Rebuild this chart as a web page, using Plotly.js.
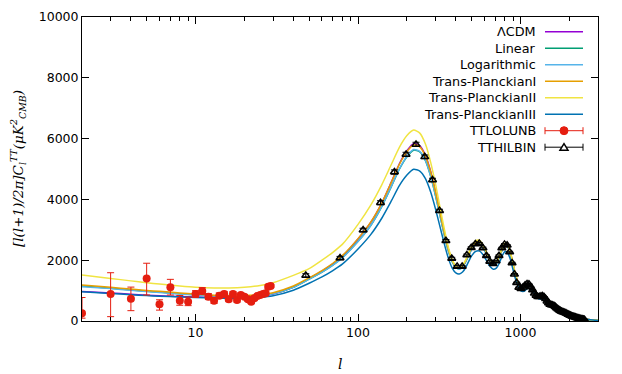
<!DOCTYPE html>
<html>
<head>
<meta charset="utf-8">
<script src="https://cdn.plot.ly/plotly-3.0.1.min.js"></script>
<style>
  html, body { margin: 0; padding: 0; background: #fff; }
  #plot { width: 622px; height: 374px; }
</style>
</head>
<body>
<div id="plot"></div>
<script>
// multipole grid for the model curves
const ell = [2, 3, 4, 5, 6, 8, 10, 13, 16, 20,
  25, 30, 40, 50, 60, 70, 80, 100, 120, 140,
  160, 180, 200, 220, 240, 260, 280, 300, 320, 340,
  360, 380, 400, 420, 440, 460, 480, 500, 530, 560,
  590, 620, 650, 680, 710, 740, 770, 800, 830, 860,
  890, 920, 960, 1000, 1050, 1100, 1150, 1200, 1250, 1300,
  1350, 1400, 1450, 1500, 1600, 1700, 1800, 1900, 2000, 2200,
  2400, 2600, 2800, 3000];

const lcdm = [970, 920, 880, 850, 830, 805, 790, 780, 780, 795,
  830, 890, 1120, 1400, 1640, 1880, 2130, 2700, 3250, 3880,
  4560, 5180, 5600, 5840, 5760, 5450, 4920, 4250, 3550, 2900,
  2350, 1980, 1780, 1720, 1790, 1960, 2180, 2380, 2560, 2580,
  2430, 2200, 1990, 1880, 1920, 2100, 2350, 2520, 2500, 2300,
  1980, 1640, 1300, 1110, 1080, 1190, 1180, 1060, 900, 800,
  800, 800, 720, 610, 520, 410, 320, 270, 215, 140,
  85, 52, 32, 20];

const linear = [1150, 1080, 1020, 980, 950, 900, 860, 830, 815, 815,
  840, 900, 1110, 1380, 1610, 1840, 2080, 2620, 3150, 3760,
  4410, 5000, 5400, 5620, 5560, 5270, 4760, 4120, 3450, 2820,
  2300, 1950, 1760, 1710, 1780, 1950, 2160, 2350, 2530, 2550,
  2400, 2180, 1970, 1870, 1910, 2080, 2330, 2490, 2470, 2270,
  1960, 1620, 1290, 1100, 1070, 1180, 1170, 1050, 890, 790,
  790, 790, 710, 600, 510, 405, 315, 265, 210, 138,
  84, 51, 31, 19];

const logarithmic = [1130, 1065, 1010, 970, 940, 892, 855, 825, 812, 812,
  835, 895, 1105, 1375, 1605, 1835, 2075, 2615, 3150, 3770,
  4420, 5010, 5420, 5640, 5580, 5280, 4770, 4130, 3460, 2830,
  2300, 1950, 1760, 1710, 1780, 1950, 2160, 2350, 2530, 2550,
  2400, 2180, 1970, 1870, 1910, 2080, 2330, 2490, 2470, 2270,
  1960, 1620, 1290, 1100, 1070, 1180, 1170, 1050, 890, 790,
  790, 790, 710, 600, 510, 405, 315, 265, 210, 138,
  84, 51, 31, 19];

const transPlanckI = [1185, 1110, 1050, 1005, 975, 925, 885, 850, 835, 835,
  865, 930, 1150, 1420, 1660, 1900, 2150, 2710, 3260, 3880,
  4550, 5160, 5570, 5800, 5730, 5420, 4900, 4240, 3550, 2900,
  2360, 1990, 1800, 1750, 1820, 1990, 2210, 2410, 2590, 2610,
  2460, 2230, 2010, 1900, 1940, 2120, 2370, 2540, 2520, 2320,
  2000, 1650, 1310, 1120, 1090, 1200, 1190, 1070, 910, 810,
  810, 810, 730, 615, 525, 415, 325, 272, 218, 142,
  86, 53, 33, 20];

const transPlanckII = [1510, 1400, 1320, 1260, 1215, 1150, 1110, 1085, 1085, 1110,
  1170, 1260, 1500, 1720, 2000, 2260, 2520, 3180, 3820, 4480,
  5140, 5720, 6100, 6280, 6180, 5820, 5220, 4500, 3730, 3020,
  2420, 2020, 1810, 1750, 1830, 2010, 2240, 2450, 2640, 2650,
  2490, 2250, 2030, 1920, 1960, 2140, 2390, 2560, 2540, 2330,
  2010, 1660, 1320, 1125, 1095, 1205, 1195, 1075, 915, 812,
  812, 812, 732, 618, 527, 416, 326, 274, 219, 143,
  87, 53, 33, 21];

const transPlanckIII = [960, 905, 865, 835, 815, 790, 770, 755, 750, 755,
  780, 830, 1010, 1240, 1450, 1660, 1870, 2370, 2850, 3380,
  3940, 4460, 4800, 4990, 4930, 4680, 4240, 3680, 3090, 2530,
  2060, 1740, 1580, 1545, 1610, 1760, 1960, 2140, 2290, 2300,
  2170, 1970, 1790, 1700, 1740, 1900, 2130, 2280, 2260, 2080,
  1790, 1480, 1180, 1000, 975, 1070, 1065, 955, 815, 725,
  725, 725, 650, 550, 470, 370, 290, 245, 195, 127,
  77, 47, 29, 18];

// low-l unbinned data
const loEll = [2, 3, 4, 5, 6, 7, 8, 9, 10, 11, 12, 13, 14, 15,
  16, 17, 18, 19, 20, 21, 22, 23, 24, 25, 26, 27, 28, 29];
const loDl = [253, 888, 735, 1400, 548, 1110, 668, 635, 888, 987, 800, 668, 833, 888,
  713, 888, 690, 855, 800, 713, 635, 746, 822, 855, 888, 910, 1130, 1150];
const loErrPlus = [520, 700, 380, 500, 150, 260, 170, 150, 110, 110, 100, 95, 90, 85,
  80, 78, 75, 72, 70, 68, 66, 64, 62, 60, 58, 56, 55, 54];
const loErrMinus = [160, 745, 395, 545, 190, 255, 150, 130, 110, 105, 95, 90, 85, 80,
  75, 72, 70, 68, 66, 64, 62, 60, 58, 56, 55, 53, 52, 50];

// high-l binned data
const hiEll = [47.7, 77.5, 107.5, 137.5, 167.5, 197.5, 227.5, 257.5, 287.5, 317.5,
  347.5, 377.5, 407.5, 437.5, 467.5, 497.5, 527.5, 557.5, 587.5, 617.5,
  647.5, 677.5, 707.5, 737.5, 767.5, 797.5, 827.5, 857.5, 887.5, 917.5,
  947.5, 977.5, 1007.5, 1037.5, 1067.5, 1097.5, 1127.5, 1157.5, 1187.5, 1217.5,
  1247.5, 1277.5, 1307.5, 1337.5, 1367.5, 1397.5, 1427.5, 1457.5, 1487.5, 1517.5,
  1547.5, 1577.5, 1607.5, 1637.5, 1667.5, 1697.5, 1727.5, 1757.5, 1787.5, 1817.5,
  1847.5, 1877.5, 1907.5, 1937.5, 1967.5, 1997.5, 2027.5, 2057.5, 2087.5, 2117.5,
  2147.5, 2177.5, 2207.5, 2237.5, 2267.5, 2297.5, 2327.5, 2357.5, 2387.5, 2417.5,
  2447.5, 2477.5];
const hiDl = [1500, 2070, 2990, 3890, 4900, 5480, 5810, 5400, 4640, 3630,
  2640, 2060, 1790, 1790, 2170, 2410, 2530, 2550, 2400, 2150,
  1960, 1880, 1970, 2150, 2400, 2520, 2490, 2270, 1910, 1540,
  1260, 1100, 1060, 1110, 1180, 1220, 1210, 1120, 1020, 910,
  840, 800, 800, 815, 820, 790, 730, 650, 590, 545,
  525, 515, 500, 470, 430, 395, 360, 335, 315, 300,
  290, 275, 255, 235, 215, 195, 180, 165, 150, 140,
  130, 120, 110, 100, 92, 85, 78, 70, 62, 55,
  48, 42];
const hiErr = [55, 55, 60, 65, 70, 70, 70, 60, 55, 45,
  40, 35, 32, 30, 30, 30, 30, 30, 28, 26,
  25, 24, 24, 24, 24, 24, 23, 22, 20, 18,
  17, 16, 15, 15, 15, 15, 15, 14, 14, 13,
  13, 12, 12, 12, 12, 12, 12, 11, 11, 11,
  11, 11, 11, 11, 11, 11, 11, 11, 11, 11,
  11, 11, 11, 11, 11, 11, 11, 11, 11, 11,
  11, 11, 11, 11, 11, 11, 11, 11, 11, 11,
  11, 11];

const curveNames = ["ΛCDM", "Linear", "Logarithmic", "Trans-PlanckianI", "Trans-PlanckianII", "Trans-PlanckianIII"];
const curveData = [lcdm, linear, logarithmic, transPlanckI, transPlanckII, transPlanckIII];
const curveColors = ["#9400d3", "#009e73", "#56b4e9", "#e69f00", "#f0e442", "#0072b2"];

const yTicks = [0, 2000, 4000, 6000, 8000, 10000];
const yTickText = ["0", "2000", "4000", "6000", "8000", "10000"];
const minorTicks = [2, 3, 4, 5, 6, 7, 8, 9, 20, 30, 40, 50, 60, 70, 80, 90,
  200, 300, 400, 500, 600, 700, 800, 900, 2000, 3000];

let traces = [];
for (let i = 0; i < curveData.length; i++) {
    traces.push({
        x: ell,
        y: curveData[i],
        mode: 'lines',
        line: { color: curveColors[i], width: 1.5, shape: 'spline', smoothing: 0.6 },
        name: curveNames[i],
        hoverinfo: 'skip'
    });
}

traces.push({
    x: loEll,
    y: loDl,
    mode: 'markers',
    marker: { color: '#e51e10', size: 8, symbol: 'circle' },
    error_y: { type: 'data', symmetric: false, array: loErrPlus, arrayminus: loErrMinus,
        color: '#e51e10', thickness: 1, width: 3.5 },
    name: 'TTLOLUNB'
});

traces.push({
    x: hiEll,
    y: hiDl,
    mode: 'markers',
    marker: { color: 'black', size: 7, symbol: 'triangle-up-open', line: { color: 'black', width: 1.5 } },
    error_y: { type: 'data', array: hiErr, color: 'black', thickness: 1, width: 3.5 },
    name: 'TTHILBIN'
});

// gnuplot style key: text right-aligned, sample to its right
const keyRows = [31.7, 48.2, 64.7, 81.2, 97.7, 114.2, 130.7, 147.2];
const keyLabels = curveNames.concat(["TTLOLUNB", "TTHILBIN"]);
const keyColors = curveColors.concat(["#e51e10", "black"]);
const px = v => (v - 82) / 516;
const py = v => (321 - v) / 304;

let annotations = [];
let shapes = [];
for (let i = 0; i < keyLabels.length; i++) {
    annotations.push({
        xref: 'paper', yref: 'paper', x: px(538), y: py(keyRows[i]),
        xanchor: 'right', yanchor: 'middle', showarrow: false,
        text: keyLabels[i], font: { size: 12.8, color: 'black' }
    });
    shapes.push({
        type: 'line', xref: 'paper', yref: 'paper',
        x0: px(545), x1: px(583), y0: py(keyRows[i]), y1: py(keyRows[i]),
        line: { color: keyColors[i], width: i < 6 ? 1.5 : 1 }
    });
    if (i >= 6) {
        [545, 583].forEach(cx => shapes.push({
            type: 'line', xref: 'paper', yref: 'paper',
            x0: px(cx), x1: px(cx), y0: py(keyRows[i] - 3.5), y1: py(keyRows[i] + 3.5),
            line: { color: keyColors[i], width: 1 }
        }));
    }
}
// key markers
shapes.push({
    type: 'circle', xref: 'paper', yref: 'paper',
    x0: px(560), x1: px(568), y0: py(keyRows[6] - 4), y1: py(keyRows[6] + 4),
    fillcolor: '#e51e10', line: { color: '#e51e10', width: 1 }
});
const tx = px(564), tyTop = py(keyRows[7] - 3.5), tyBot = py(keyRows[7] + 3);
shapes.push({
    type: 'path', xref: 'paper', yref: 'paper',
    path: 'M ' + px(560) + ' ' + tyBot + ' L ' + tx + ' ' + tyTop + ' L ' + px(568) + ' ' + tyBot + ' Z',
    fillcolor: 'white', line: { color: 'black', width: 1.5 }
});

annotations.push({
    xref: 'paper', yref: 'paper', x: px(18), y: 0.5,
    xanchor: 'center', yanchor: 'middle', showarrow: false, textangle: -90,
    text: '<i>[l(l+1)/2π]C<sub>l</sub><sup>TT</sup>(μK<sup>2</sup><sub>CMB</sub>)</i>',
    font: { family: 'DejaVu Serif', size: 13.5, color: 'black' }
});
annotations.push({
    xref: 'paper', yref: 'paper', x: px(340), y: py(364),
    xanchor: 'center', yanchor: 'middle', showarrow: false,
    text: '<i>l</i>', font: { family: 'DejaVu Serif', size: 14, color: 'black' }
});

const layout = {
    width: 622,
    height: 374,
    margin: { l: 82, r: 24, t: 17, b: 53 },
    paper_bgcolor: 'white',
    plot_bgcolor: 'white',
    showlegend: false,
    font: { family: 'DejaVu Sans', size: 12.5, color: 'black' },
    xaxis: {
        type: 'log',
        range: [Math.log10(2), Math.log10(3000)],
        tickmode: 'array',
        tickvals: [10, 100, 1000],
        ticktext: ['10', '100', '1000'],
        ticks: 'inside', ticklen: 7, tickcolor: 'black',
        minor: { tickmode: 'array', tickvals: minorTicks, ticks: 'inside', ticklen: 4, tickcolor: 'black' },
        showline: true, linecolor: 'black', linewidth: 1, mirror: 'ticks',
        showgrid: false, zeroline: false
    },
    yaxis: {
        range: [0, 10000],
        tickmode: 'array',
        tickvals: yTicks,
        ticktext: yTickText,
        ticks: 'inside', ticklen: 7, tickcolor: 'black',
        showline: true, linecolor: 'black', linewidth: 1, mirror: 'ticks',
        showgrid: false, zeroline: false
    },
    annotations: annotations,
    shapes: shapes
};

Plotly.newPlot('plot', traces, layout, { displayModeBar: false, staticPlot: true });
</script>
</body>
</html>
